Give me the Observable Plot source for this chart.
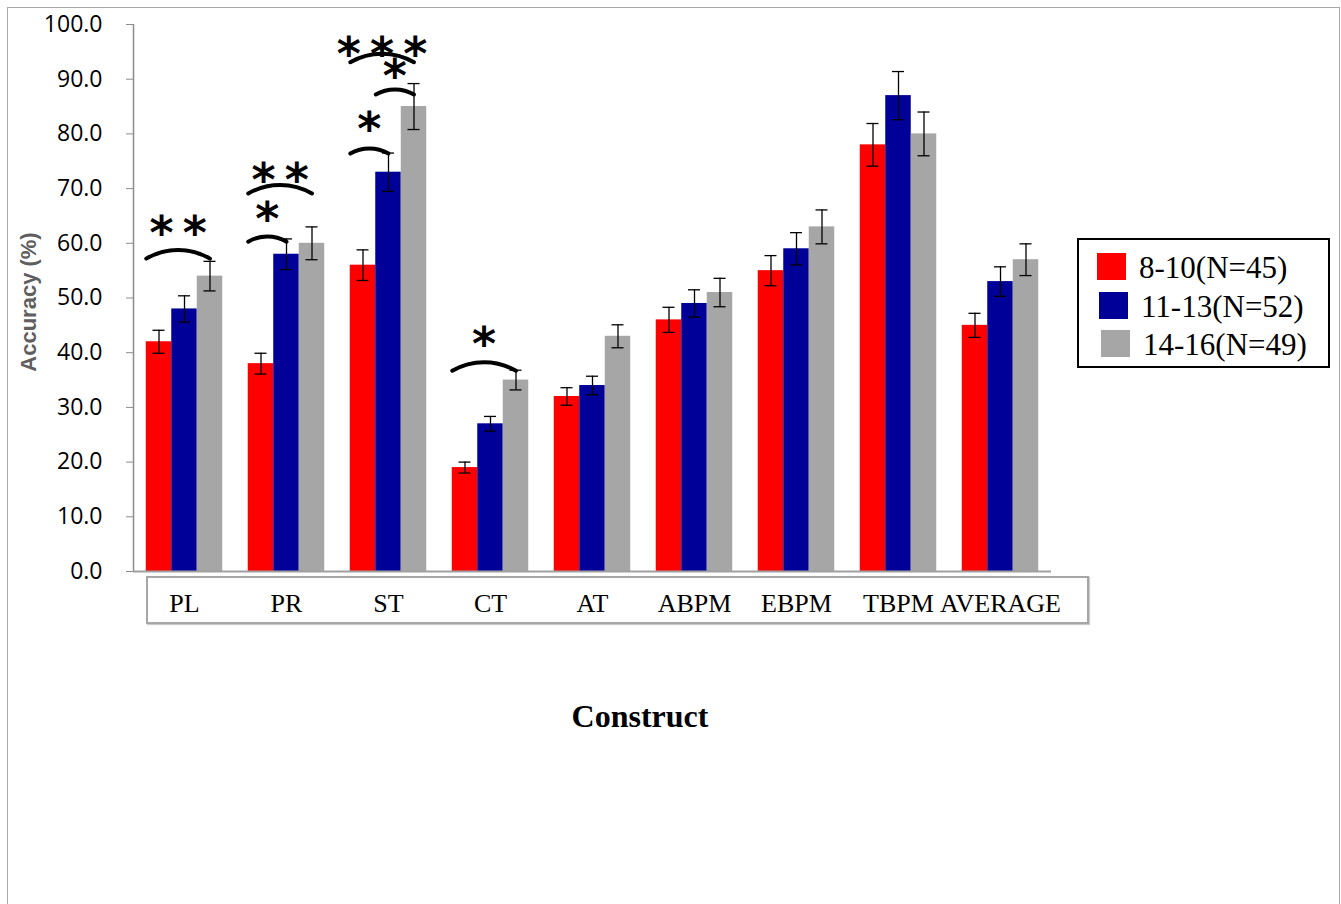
<!DOCTYPE html>
<html>
<head>
<meta charset="utf-8">
<script src="https://cdn.jsdelivr.net/npm/d3@7"></script>
<script src="https://cdn.jsdelivr.net/npm/@observablehq/plot@0.6"></script>
<style>
  body { margin: 0; background: #fff; }
  #wrap { position: relative; width: 1341px; height: 904px; overflow: hidden; background: #fff; }
  #frame { position: absolute; left: 7px; top: 7px; width: 1331px; height: 940px; border: 1px solid #a9a9a9; }
  #chart { position: absolute; left: 0; top: 0; }
  #xbox { position: absolute; left: 146px; top: 576px; width: 939px; height: 44px; border: 2px solid #a6a6a6; box-shadow: 1px 1px 1px #ccc; }
  #xtitle { position: absolute; left: 0; width: 1280px; top: 700px; text-align: center; font: bold 32px/32px "Liberation Serif", serif; color: #000; }
  #ytitle { position: absolute; left: 29px; top: 302px; transform: translate(-50%, -50%) rotate(-90deg); font: bold 22px "Liberation Sans", sans-serif; color: #5f5f5f; white-space: nowrap; }
  #legend { position: absolute; left: 1077px; top: 238px; width: 249px; height: 126px; border: 2px solid #000; }
  .item { position: absolute; height: 27px; display: flex; align-items: center; }
  .sw { width: 29px; height: 27px; margin-right: 13px; }
  .lab { font: 31px/27px "Liberation Serif", serif; color: #000; position: relative; top: 1px; }
</style>
</head>
<body>
<div id="wrap">
  <div id="frame"></div>
  <div id="chart"></div>
  <div id="xbox"></div>
  <div id="xtitle">Construct</div>
  <div id="ytitle">Accuracy (%)</div>
  <div id="legend"></div>
</div>
<script>
// ---- data ----
const constructs = ["PL", "PR", "ST", "CT", "AT", "ABPM", "EBPM", "TBPM", "AVERAGE"];
const series = ["8-10(N=45)", "11-13(N=52)", "14-16(N=49)"];
const colors = ["#ff0000", "#000099", "#a6a6a6"];

const acc810  = [42, 38, 56, 19, 32, 46, 55, 78, 45];
const acc1113 = [48, 58, 73, 27, 34, 49, 59, 87, 53];
const acc1416 = [54, 60, 85, 35, 43, 51, 63, 80, 57];

const err810  = [2.1, 1.9, 2.8, 1.0, 1.6, 2.3, 2.75, 3.9, 2.2];
const err1113 = [2.4, 2.8, 3.5, 1.35, 1.7, 2.5, 2.95, 4.4, 2.7];
const err1416 = [2.7, 3.0, 4.2, 1.8, 2.1, 2.6, 3.1, 4.0, 2.9];

const yTicks = [0, 10, 20, 30, 40, 50, 60, 70, 80, 90, 100];

// significance brackets
const sigConstruct = ["PL", "PR", "PR", "ST", "ST", "ST", "CT"];
const sigFrom      = ["8-10(N=45)", "8-10(N=45)", "8-10(N=45)", "8-10(N=45)", "11-13(N=52)", "8-10(N=45)", "8-10(N=45)"];
const sigTo        = ["14-16(N=49)", "11-13(N=52)", "14-16(N=49)", "11-13(N=52)", "14-16(N=49)", "14-16(N=49)", "14-16(N=49)"];
const sigY         = [57.2, 60.3, 69.1, 76.4, 87.2, 93.1, 36.7];
const sigLabel     = ["**", "*", "**", "*", "*", "***", "*"];
const sigLabelY    = [63.6, 66.2, 73.4, 82.6, 92.4, 96.4, 43.4];

// ---- build tables ----
const values = [acc810, acc1113, acc1416];
const errors = [err810, err1113, err1416];
const barShare = 0.25; // each bar takes a quarter of a category
const pos = (c, s) => constructs.indexOf(c) + (series.indexOf(s) - 1) * barShare;

const rows = [];
constructs.forEach((c, i) => series.forEach((s, j) => {
  rows.push({construct: c, series: s, value: values[j][i], err: errors[j][i], x: pos(c, s)});
}));

const sig = sigConstruct.map((c, i) => {
  const x1 = pos(c, sigFrom[i]) - barShare / 2;
  const x2 = pos(c, sigTo[i]);
  return {x1, x2, y: sigY[i], label: sigLabel[i].split("").join("\u2009"), labelY: sigLabelY[i], xm: (x1 + x2) / 2};
});

const xDomain = [-0.5, constructs.length - 0.5];

const chart = Plot.plot({
  width: 1341,
  height: 640,
  marginLeft: 133,
  marginRight: 290,
  marginTop: 24,
  marginBottom: 69,
  x: {domain: xDomain},
  y: {domain: [0, 100]},
  color: {domain: series, range: colors},
  style: {background: "transparent"},
  marks: [
    Plot.rect(rows, {x1: d => d.x - barShare / 2, x2: d => d.x + barShare / 2, y1: 0, y2: "value", fill: "series"}),
    Plot.ruleX(rows, {x: "x", y1: d => d.value - d.err, y2: d => d.value + d.err, stroke: "black", strokeWidth: 1.3}),
    Plot.ruleY(rows, {x1: "x", x2: "x", y: d => d.value + d.err, insetLeft: -6, insetRight: -6, stroke: "black", strokeWidth: 1.3}),
    Plot.ruleY(rows, {x1: "x", x2: "x", y: d => d.value - d.err, insetLeft: -6, insetRight: -6, stroke: "black", strokeWidth: 1.3}),
    Plot.ruleX([xDomain[0]], {stroke: "#8c8c8c", strokeWidth: 1.5}),
    Plot.ruleY([0], {stroke: "#a0a0a0", strokeWidth: 2}),
    Plot.axisY({ticks: yTicks, tickFormat: d => d.toFixed(1), tickSize: 7, tickPadding: 24, stroke: "#8c8c8c", fill: "black", fontSize: 23, fontFamily: "Open Sans", label: null}),
    Plot.axisX({ticks: d3.range(constructs.length), tickFormat: i => constructs[i], tickSize: 0, tickPadding: 22, fontSize: 26, fontFamily: "Liberation Serif", fill: "black", label: null}),
    Plot.arrow(sig, {x1: "x1", y1: "y", x2: "x2", y2: "y", bend: 30, headLength: 0, stroke: "black", strokeWidth: 4}),
    Plot.text(sig, {x: "xm", y: "labelY", text: "label", fontSize: 46, fontWeight: "bold", fontFamily: "DejaVu Sans", lineAnchor: "middle", dy: 11, fill: "black"})
  ]
});
document.getElementById("chart").appendChild(chart);

// legend
const legend = document.getElementById("legend");
series.forEach((s, i) => {
  const item = document.createElement("div");
  item.className = "item";
  item.style.left = (18 + i * 2) + "px";
  item.style.top = (13 + i * 38.5) + "px";
  item.innerHTML = `<div class="sw" style="background:${colors[i]}"></div><div class="lab">${s}</div>`;
  legend.appendChild(item);
});
</script>
</body>
</html>
